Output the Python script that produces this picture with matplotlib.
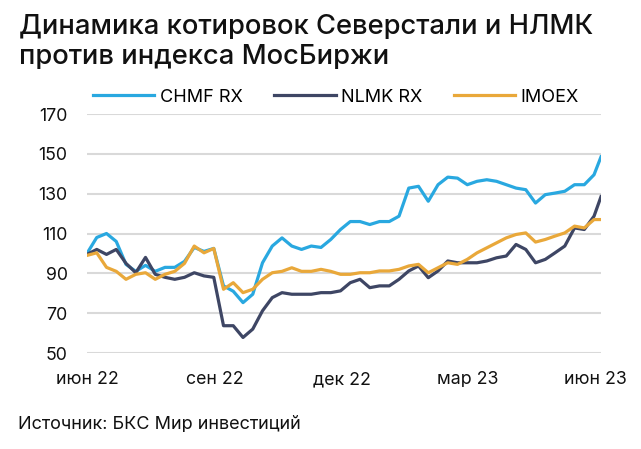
import numpy as np
import pandas as pd
import matplotlib
matplotlib.use("Agg")
import matplotlib.pyplot as plt

# weekly points, base = 100
dates = pd.date_range("2022-06-01", periods=53, freq="7D").tolist() + [pd.Timestamp("2023-06-05")]

chmf = [100, 108, 110, 106, 94.5, 91, 94, 91, 93, 93, 96, 103, 101, 102.5,
        83.7, 81, 75.3, 79.5, 95.3, 103.7, 107.8, 103.7, 102, 103.7, 103, 107,
        112, 116, 116, 114.5, 116, 116, 118.7, 132.8, 133.7, 126.2, 134.5, 138.3,
        137.8, 134.5, 136.2, 137, 136.2, 134.5, 132.8, 132, 125.3, 129.5, 130.3,
        131.2, 134.5, 134.5, 139.5, 148.5]
nlmk = [99.5, 102, 99.5, 102, 95, 90.3, 98, 89.5, 88, 87, 88, 90.3, 88.7, 88,
        63.7, 63.7, 57.8, 62, 71.2, 77.8, 80.3, 79.5, 79.5, 79.5, 80.3, 80.3,
        81.2, 85.3, 87, 82.8, 83.7, 83.7, 87, 91.2, 93.7, 87.8, 91.2, 96.2,
        95.3, 95.3, 95.3, 96.2, 97.8, 98.7, 104.5, 102, 95.3, 97, 100.3,
        103.7, 112.8, 112, 118.7, 128.5]
imoex = [99, 100.3, 93, 91, 87, 89.5, 90.3, 87, 89.5, 91, 95, 103.7, 100.3, 102.5,
         82, 85.3, 80.3, 82, 87, 90.3, 91, 92.8, 91, 91, 92, 91,
         89.5, 89.5, 90.3, 90.3, 91.2, 91.2, 92, 93.7, 94.5, 90.3, 92.8, 95.3,
         94.5, 97, 100.3, 102.8, 105.3, 107.8, 109.5, 110.3, 105.7, 107, 108.7,
         110.3, 113.7, 112.8, 117, 117]

series = [("CHMF RX", chmf, "#29A8E0"),
          ("NLMK RX", nlmk, "#3E4664"),
          ("IMOEX", imoex, "#E9A83A")]

tick_dates = ["2022-06-01", "2022-09-01", "2022-12-01", "2023-03-01", "2023-06-01"]
tick_labels = ["июн 22", "сен 22", "дек 22", "мар 23", "июн 23"]
y_ticks = [50, 70, 90, 110, 130, 150, 170]

plt.rcParams["font.family"] = ["Inter", "DejaVu Sans"]

W, H = 641, 449
fig = plt.figure(figsize=(W / 100, H / 100), dpi=100)
ax = fig.add_axes([87 / W, 1 - 353 / H, (601 - 87) / W, (353 - 114) / H])

for name, vals, col in series:
    ax.plot(dates, vals, color=col, lw=2.3, label=name, solid_joinstyle="round")

ax.set_xlim(dates[0], dates[-1])
ax.set_ylim(50, 170)
ax.set_yticks(y_ticks)
ax.set_xticks(pd.to_datetime(tick_dates))
ax.set_xticklabels(tick_labels)
ax.grid(axis="y", color="#D9D9D9", lw=1.5)
ax.set_axisbelow(True)
for s in ax.spines.values():
    s.set_visible(False)
ax.tick_params(length=0, labelsize=12.8, colors="#111111")
ax.tick_params(axis="y", pad=14)
ax.tick_params(axis="x", pad=13)

fig.legend(loc="center left", bbox_to_anchor=(93 / W, 1 - 97 / H), ncol=3,
           frameon=False, fontsize=13, handlelength=3.4, handletextpad=0.3,
           columnspacing=1.75, borderpad=0, borderaxespad=0)

fig.text(19 / W, 1 - 34 / H, "Динамика котировок Северстали и НЛМК",
         fontsize=19.7, fontweight="medium", va="baseline", ha="left", color="#111111")
fig.text(19 / W, 1 - 64 / H, "против индекса МосБиржи",
         fontsize=19.7, fontweight="medium", va="baseline", ha="left", color="#111111")
fig.text(18 / W, 1 - 424 / H, "Источник: БКС Мир инвестиций", fontsize=13,
         va="center", ha="left", color="#111111")

fig.savefig("out.png", dpi=100)
